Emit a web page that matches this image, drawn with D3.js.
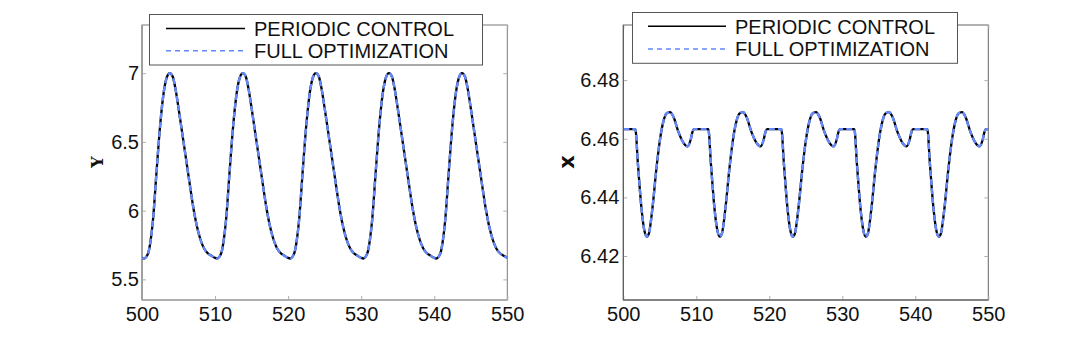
<!DOCTYPE html>
<html><head><meta charset="utf-8">
<script src="https://cdn.jsdelivr.net/npm/d3@7"></script>
<style>
html,body{margin:0;padding:0;background:#fff;}
svg{display:block;}
text{font-family:"Liberation Sans",Arial,Helvetica,sans-serif;}
</style></head>
<body>
<svg id="chart" width="1092" height="338"></svg>
<script>
// ---- data ----
const seriesNames = ["PERIODIC CONTROL", "FULL OPTIMIZATION"];
const xTicks = [500, 510, 520, 530, 540, 550];
const yTicksLeft = [5.5, 6, 6.5, 7];
const yTicksRight = [6.42, 6.44, 6.46, 6.48];

const timeY = [
 500,500.3,500.6,500.9,501.2,501.5,502,502.5,503,503.4,503.8,504.2,504.6,505,505.5,506,506.5,507,507.5,508,508.5,509,509.5,
 510,510.3,510.6,510.9,511.2,511.5,512,512.5,513,513.4,513.8,514.2,514.6,515,515.5,516,516.5,517,517.5,518,518.5,519,519.5,
 520,520.3,520.6,520.9,521.2,521.5,522,522.5,523,523.4,523.8,524.2,524.6,525,525.5,526,526.5,527,527.5,528,528.5,529,529.5,
 530,530.3,530.6,530.9,531.2,531.5,532,532.5,533,533.4,533.8,534.2,534.6,535,535.5,536,536.5,537,537.5,538,538.5,539,539.5,
 540,540.3,540.6,540.9,541.2,541.5,542,542.5,543,543.4,543.8,544.2,544.6,545,545.5,546,546.5,547,547.5,548,548.5,549,549.5,
 550];
const periodicY = [
 5.656,5.652,5.665,5.700,5.790,5.930,6.290,6.630,6.870,6.970,7.000,6.975,6.880,6.745,6.565,6.385,6.205,6.030,5.890,5.790,5.725,5.690,5.672,
 5.656,5.652,5.665,5.700,5.790,5.930,6.290,6.630,6.870,6.970,7.000,6.975,6.880,6.745,6.565,6.385,6.205,6.030,5.890,5.790,5.725,5.690,5.672,
 5.656,5.652,5.665,5.700,5.790,5.930,6.290,6.630,6.870,6.970,7.000,6.975,6.880,6.745,6.565,6.385,6.205,6.030,5.890,5.790,5.725,5.690,5.672,
 5.656,5.652,5.665,5.700,5.790,5.930,6.290,6.630,6.870,6.970,7.000,6.975,6.880,6.745,6.565,6.385,6.205,6.030,5.890,5.790,5.725,5.690,5.672,
 5.656,5.652,5.665,5.700,5.790,5.930,6.290,6.630,6.870,6.970,7.000,6.975,6.880,6.745,6.565,6.385,6.205,6.030,5.890,5.790,5.725,5.690,5.672,
 5.658];
const fullOptY = [
 5.656,5.652,5.665,5.700,5.790,5.930,6.290,6.630,6.870,6.970,7.000,6.975,6.880,6.745,6.565,6.385,6.205,6.030,5.890,5.790,5.725,5.690,5.672,
 5.656,5.652,5.665,5.700,5.790,5.930,6.290,6.630,6.870,6.970,7.000,6.975,6.880,6.745,6.565,6.385,6.205,6.030,5.890,5.790,5.725,5.690,5.672,
 5.656,5.652,5.665,5.700,5.790,5.930,6.290,6.630,6.870,6.970,7.000,6.975,6.880,6.745,6.565,6.385,6.205,6.030,5.890,5.790,5.725,5.690,5.672,
 5.656,5.652,5.665,5.700,5.790,5.930,6.290,6.630,6.870,6.970,7.000,6.975,6.880,6.745,6.565,6.385,6.205,6.030,5.890,5.790,5.725,5.690,5.672,
 5.656,5.652,5.665,5.700,5.790,5.930,6.290,6.630,6.870,6.970,7.000,6.975,6.880,6.745,6.565,6.385,6.205,6.030,5.890,5.790,5.725,5.690,5.672,
 5.658];

const timeX = [
 500,500.5,501,501.65,502,502.5,502.9,503.2,503.5,504,504.5,505,505.5,505.9,506.4,506.9,507.5,508.2,508.8,509.2,509.5,509.7,
 510,510.5,511,511.65,512,512.5,512.9,513.2,513.5,514,514.5,515,515.5,515.9,516.4,516.9,517.5,518.2,518.8,519.2,519.5,519.7,
 520,520.5,521,521.65,522,522.5,522.9,523.2,523.5,524,524.5,525,525.5,525.9,526.4,526.9,527.5,528.2,528.8,529.2,529.5,529.7,
 530,530.5,531,531.65,532,532.5,532.9,533.2,533.5,534,534.5,535,535.5,535.9,536.4,536.9,537.5,538.2,538.8,539.2,539.5,539.7,
 540,540.5,541,541.65,542,542.5,542.9,543.2,543.5,544,544.5,545,545.5,545.9,546.4,546.9,547.5,548.2,548.8,549.2,549.5,549.7,
 550];
const periodicX = [
 6.4633,6.4633,6.4633,6.4633,6.4515,6.4360,6.4285,6.4266,6.4276,6.4365,6.4490,6.4593,6.4660,6.4686,6.4691,6.4673,6.4627,6.4588,6.4574,6.4594,6.4625,6.4633,
 6.4633,6.4633,6.4633,6.4633,6.4515,6.4360,6.4285,6.4266,6.4276,6.4365,6.4490,6.4593,6.4660,6.4686,6.4691,6.4673,6.4627,6.4588,6.4574,6.4594,6.4625,6.4633,
 6.4633,6.4633,6.4633,6.4633,6.4515,6.4360,6.4285,6.4266,6.4276,6.4365,6.4490,6.4593,6.4660,6.4686,6.4691,6.4673,6.4627,6.4588,6.4574,6.4594,6.4625,6.4633,
 6.4633,6.4633,6.4633,6.4633,6.4515,6.4360,6.4285,6.4266,6.4276,6.4365,6.4490,6.4593,6.4660,6.4686,6.4691,6.4673,6.4627,6.4588,6.4574,6.4594,6.4625,6.4633,
 6.4633,6.4633,6.4633,6.4633,6.4515,6.4360,6.4285,6.4266,6.4276,6.4365,6.4490,6.4593,6.4660,6.4686,6.4691,6.4673,6.4627,6.4588,6.4574,6.4594,6.4625,6.4633,
 6.4633];
const fullOptX = [
 6.4633,6.4633,6.4633,6.4633,6.4515,6.4360,6.4285,6.4266,6.4276,6.4365,6.4490,6.4593,6.4660,6.4686,6.4691,6.4673,6.4627,6.4588,6.4574,6.4594,6.4625,6.4633,
 6.4633,6.4633,6.4633,6.4633,6.4515,6.4360,6.4285,6.4266,6.4276,6.4365,6.4490,6.4593,6.4660,6.4686,6.4691,6.4673,6.4627,6.4588,6.4574,6.4594,6.4625,6.4633,
 6.4633,6.4633,6.4633,6.4633,6.4515,6.4360,6.4285,6.4266,6.4276,6.4365,6.4490,6.4593,6.4660,6.4686,6.4691,6.4673,6.4627,6.4588,6.4574,6.4594,6.4625,6.4633,
 6.4633,6.4633,6.4633,6.4633,6.4515,6.4360,6.4285,6.4266,6.4276,6.4365,6.4490,6.4593,6.4660,6.4686,6.4691,6.4673,6.4627,6.4588,6.4574,6.4594,6.4625,6.4633,
 6.4633,6.4633,6.4633,6.4633,6.4515,6.4360,6.4285,6.4266,6.4276,6.4365,6.4490,6.4593,6.4660,6.4686,6.4691,6.4673,6.4627,6.4588,6.4574,6.4594,6.4625,6.4633,
 6.4633];

// ---- drawing ----
const svg = d3.select("#chart");
const BLUE = "#6489fb";
const FONT = '"Liberation Sans", Arial, Helvetica, sans-serif';

function panel(cfg) {
  const x = d3.scaleLinear().domain([500, 550]).range([cfg.left, cfg.right]);
  const y = d3.scaleLinear().domain(cfg.yDomain).range([300, 25]);
  const g = svg.append("g");
  const clipId = "clip" + cfg.id;
  svg.append("defs").append("clipPath").attr("id", clipId)
    .append("rect").attr("x", cfg.left).attr("y", 25)
    .attr("width", cfg.right - cfg.left).attr("height", 275);

  // box
  g.append("rect").attr("x", cfg.left).attr("y", 25)
    .attr("width", cfg.right - cfg.left).attr("height", 275)
    .attr("fill", "none").attr("stroke", cfg.boxColor).attr("stroke-width", 1);

  const styleAxis = (sel, labels) => {
    sel.select(".domain").remove();
    sel.selectAll(".tick line").attr("stroke", "#b0b0b0");
    sel.selectAll(".tick text").attr("fill", "#111")
      .style("font-size", "20px").style("font-family", FONT);
    if (!labels) sel.selectAll(".tick text").remove();
  };

  g.append("g").attr("transform", `translate(0,300)`)
    .call(d3.axisBottom(x).tickValues(xTicks).tickSize(-4).tickPadding(7).tickFormat(d3.format("d")))
    .call(s => styleAxis(s, true));
  g.append("g").attr("transform", `translate(0,25)`)
    .call(d3.axisTop(x).tickValues(xTicks).tickSize(-4))
    .call(s => styleAxis(s, false));
  g.append("g").attr("transform", `translate(${cfg.left},0)`)
    .call(d3.axisLeft(y).tickValues(cfg.yTicks).tickSize(-4).tickPadding(cfg.tickPad).tickFormat(cfg.fmt))
    .call(s => styleAxis(s, true));
  g.append("g").attr("transform", `translate(${cfg.right},0)`)
    .call(d3.axisRight(y).tickValues(cfg.yTicks).tickSize(-4))
    .call(s => styleAxis(s, false));

  // left & bottom spines
  g.append("line").attr("x1", cfg.left).attr("x2", cfg.left).attr("y1", 25).attr("y2", 300)
    .attr("stroke", cfg.spineColor).attr("stroke-width", cfg.spineWidth);
  g.append("line").attr("x1", cfg.left).attr("x2", cfg.right).attr("y1", 300).attr("y2", 300)
    .attr("stroke", cfg.spineColor).attr("stroke-width", 1);

  const line = d3.line().x(d => x(d[0])).y(d => y(d[1])).curve(d3.curveMonotoneX);
  const lines = g.append("g").attr("clip-path", `url(#${clipId})`);
  lines.append("path").datum(cfg.t.map((t, i) => [t, cfg.a[i]]))
    .attr("d", line).attr("fill", "none").attr("stroke", "#000").attr("stroke-width", 2.3);
  lines.append("path").datum(cfg.t.map((t, i) => [t, cfg.b[i]]))
    .attr("d", line).attr("fill", "none").attr("stroke", BLUE).attr("stroke-width", 2.4)
    .attr("stroke-dasharray", "6,3");

  // y label
  g.append("text").attr("transform", `translate(${cfg.labX},162) rotate(-90)`)
    .attr("text-anchor", "middle").attr("dy", "0.35em")
    .style("font-size", cfg.labSize + "px").style("font-weight", "bold")
    .style("font-family", cfg.labFont)
    .attr("fill", "#111").text(cfg.label);

  // legend
  const L = cfg.legend;
  g.append("rect").attr("x", L.x0).attr("y", L.y0).attr("width", L.x1 - L.x0).attr("height", L.y1 - L.y0)
    .attr("fill", "#fff").attr("stroke", "#555").attr("stroke-width", 1);
  const rows = [{name: seriesNames[0], color: "#000", dash: null, ly: L.l1, ty: L.t1},
                {name: seriesNames[1], color: BLUE, dash: "5,4", ly: L.l2, ty: L.t2}];
  rows.forEach(r => {
    g.append("line").attr("x1", L.s0).attr("x2", L.s1).attr("y1", r.ly).attr("y2", r.ly)
      .attr("stroke", r.color).attr("stroke-width", 1.6).attr("stroke-dasharray", r.dash);
    g.append("text").attr("x", L.tx).attr("y", r.ty).style("font-size", "20px")
      .style("font-family", FONT).attr("fill", "#111").text(r.name);
  });
}

panel({id: "L", left: 142, right: 507.3, yDomain: [5.35, 7.35], yTicks: yTicksLeft,
  fmt: d3.format(""), tickPad: 3, boxColor: "#7a7a7a", spineColor: "#a0a0a0", spineWidth: 2,
  t: timeY, a: periodicY, b: fullOptY, label: "Y", labX: 97, labSize: 16, labFont: '"DejaVu Serif", serif',
  legend: {x0: 149.5, x1: 482.5, y0: 14.5, y1: 65, s0: 166, s1: 245, l1: 28.5, l2: 50.7, tx: 254, t1: 36, t2: 57.7}});

panel({id: "R", left: 623.3, right: 988.3, yDomain: [6.405, 6.4988], yTicks: yTicksRight,
  fmt: d3.format(".2f"), tickPad: 4, boxColor: "#666", spineColor: "#555", spineWidth: 1,
  t: timeX, a: periodicX, b: fullOptX, label: "x", labX: 567, labSize: 21, labFont: '"DejaVu Sans", sans-serif',
  legend: {x0: 632.5, x1: 957.5, y0: 12.5, y1: 63.3, s0: 648, s1: 726, l1: 26.3, l2: 49, tx: 735, t1: 34.3, t2: 56}});
</script>
</body></html>
